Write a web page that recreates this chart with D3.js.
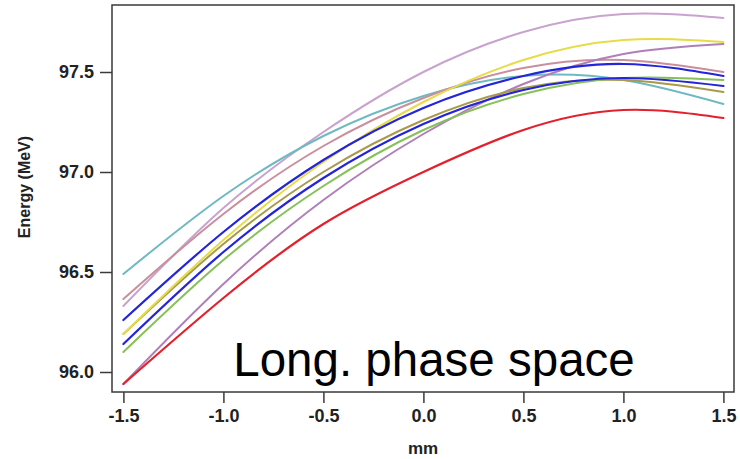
<!DOCTYPE html>
<html>
<head>
<meta charset="utf-8">
<script src="https://cdn.jsdelivr.net/npm/d3@7"></script>
<style>
  html, body { margin: 0; padding: 0; background: #fff; }
  svg { display: block; font-family: Arial, "Liberation Sans", sans-serif; }
</style>
</head>
<body>
<div id="chart"></div>
<script>
const Width = 740;
const Height = 459;

// positions along the bunch (mm)
const xs = [-1.5, -1.0, -0.5, 0.0, 0.5, 1.0, 1.5];
const xTicks = [-1.5, -1.0, -0.5, 0.0, 0.5, 1.0, 1.5];
const yTicks = [96.0, 96.5, 97.0, 97.5];

// energy curves (MeV)
const lightPurple = [96.33, 96.82, 97.20, 97.50, 97.70, 97.79, 97.77];
const cyan        = [96.49, 96.88, 97.18, 97.38, 97.48, 97.46, 97.34];
const rosy        = [96.365, 96.79, 97.13, 97.37, 97.52, 97.56, 97.50];
const mauve       = [95.94, 96.44, 96.86, 97.19, 97.44, 97.59, 97.64];
const olive       = [96.19, 96.64, 97.00, 97.26, 97.42, 97.46, 97.40];
const yellow      = [96.19, 96.66, 97.05, 97.35, 97.56, 97.66, 97.65];
const green       = [96.10, 96.56, 96.93, 97.21, 97.39, 97.47, 97.46];
const blue2       = [96.14, 96.60, 96.97, 97.24, 97.41, 97.47, 97.43];
const blue1       = [96.26, 96.70, 97.06, 97.32, 97.48, 97.54, 97.48];
const red         = [95.94, 96.37, 96.74, 97.00, 97.21, 97.31, 97.27];

const series = [
  { values: lightPurple, color: '#c9a2cf', w: 2 },
  { values: cyan,        color: '#6fb9c2', w: 2 },
  { values: rosy,        color: '#c98f9c', w: 2 },
  { values: mauve,       color: '#b07fb8', w: 2 },
  { values: olive,       color: '#a89a4a', w: 2 },
  { values: yellow,      color: '#e6dc48', w: 2 },
  { values: green,       color: '#86c058', w: 2 },
  { values: blue2,       color: '#2424d8', w: 2.2 },
  { values: blue1,       color: '#2424d8', w: 2.2 },
  { values: red,         color: '#e3202c', w: 2.2 }
];

const svg = d3.select('#chart').
append('svg').
attr('width', Width).
attr('height', Height);

const x = d3.scaleLinear().domain([-1.557, 1.553]).range([112, 734]);
const y = d3.scaleLinear().domain([95.9, 97.835]).range([392, 5]);

//curves
const line = d3.line().
x((d, i) => x(xs[i])).
y(d => y(d)).
curve(d3.curveNatural);

svg.append('g').
selectAll('path').
data(series).
enter().
append('path').
attr('d', d => line(d.values)).
attr('fill', 'none').
attr('stroke', d => d.color).
attr('stroke-width', d => d.w).
attr('stroke-linecap', 'round');

//frame
svg.append('rect').
attr('x', 112).
attr('y', 5).
attr('width', 734 - 112).
attr('height', 392 - 5).
attr('fill', 'none').
attr('stroke', '#3a3a3a').
attr('stroke-width', 1.5);

//axes
const xAxis = svg.append('g').
attr('transform', 'translate(0,392)').
call(d3.axisBottom(x).tickValues(xTicks).tickSize(11).tickPadding(6).tickFormat(d => d.toFixed(1)));

const yAxis = svg.append('g').
attr('transform', 'translate(112,0)').
call(d3.axisLeft(y).tickValues(yTicks).tickSize(12).tickPadding(6).tickFormat(d => d.toFixed(1)));

[xAxis, yAxis].forEach(a => {
  a.select('.domain').remove();
  a.selectAll('.tick line').attr('stroke', '#3a3a3a').attr('stroke-width', 1.5);
  a.selectAll('.tick text').
  attr('fill', '#222').
  style('font-size', '18px').
  style('font-weight', 'bold').
  style('font-family', 'Arial, "Liberation Sans", sans-serif');
});
xAxis.selectAll('.tick text').attr('dy', '0.7em');

//axis titles
svg.append('text').
attr('x', 423).
attr('y', 454).
attr('text-anchor', 'middle').
attr('fill', '#222').
style('font-size', '17px').
style('font-weight', 'bold').
text('mm');

svg.append('text').
attr('transform', 'translate(30,187) rotate(-90)').
attr('text-anchor', 'middle').
attr('fill', '#222').
style('font-size', '16px').
style('font-weight', 'bold').
text('Energy (MeV)');

//label
svg.append('text').
attr('x', 434).
attr('y', 375.5).
attr('text-anchor', 'middle').
attr('fill', '#000').
style('font-size', '47.5px').
text('Long. phase space');
</script>
</body>
</html>
